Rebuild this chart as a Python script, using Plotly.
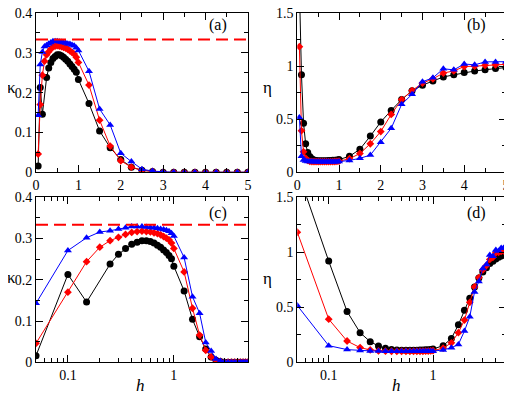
import plotly.graph_objects as go

# campo h: 0.05..1.0 passo 0.05, depois 1.25..5.0 passo 0.25
h = [0.05, 0.1, 0.15, 0.2, 0.25, 0.3, 0.35, 0.4, 0.45, 0.5,
     0.55, 0.6, 0.65, 0.7, 0.75, 0.8, 0.85, 0.9, 0.95, 1.0,
     1.25, 1.5, 1.75, 2.0, 2.25, 2.5, 2.75, 3.0, 3.25, 3.5,
     3.75, 4.0, 4.25, 4.5, 4.75, 5.0]

# kappa
kappa_black = [0.016, 0.213, 0.146, None, 0.238, 0.262, 0.276, 0.286, 0.291, 0.295,
               0.295, 0.293, 0.289, 0.284, 0.279, 0.272, 0.266, 0.259, 0.251, 0.233,
               0.173, 0.104, 0.062, 0.032, 0.013, 0.005, 0.002, 0.0, 0.0, 0.0,
               0.0, 0.0, 0.0, 0.0, 0.0, 0.0]
kappa_red = [0.046, 0.170, 0.244, 0.279, 0.295, 0.303, 0.310, 0.315, 0.317, 0.318,
             0.317, 0.316, 0.314, 0.312, 0.309, 0.305, 0.301, 0.297, 0.289, 0.276,
             0.219, 0.131, 0.066, 0.029, 0.013, 0.005, 0.002, 0.0, 0.0, 0.0,
             0.0, 0.0, 0.0, 0.0, 0.0, 0.0]
kappa_blue = [0.143, 0.271, 0.302, 0.316, 0.319, 0.323, 0.326, 0.329, 0.329, 0.329,
              0.328, 0.327, 0.326, 0.325, 0.323, 0.322, 0.320, 0.318, 0.313, 0.306,
              0.254, 0.159, 0.119, 0.048, 0.027, 0.008, 0.003, 0.001, 0.0, 0.0,
              0.0, 0.0, 0.0, 0.0, 0.0, 0.0]

# eta
eta_black = [1.75, 0.92, 0.462, 0.269, 0.187, 0.148, 0.127, 0.115, 0.112, 0.110,
             0.110, 0.110, 0.110, 0.110, 0.111, 0.112, 0.113, 0.114, 0.116, 0.120,
             0.151, 0.217, 0.341, 0.474, 0.583, 0.685, 0.767, 0.821, 0.86, 0.898,
             0.918, 0.939, 0.954, 0.966, 0.978, 0.987]
eta_red = [1.183, 0.392, 0.193, 0.133, 0.112, 0.103, 0.101, 0.100, 0.100, 0.100,
           0.100, 0.100, 0.100, 0.100, 0.100, 0.100, 0.101, 0.102, 0.103, 0.105,
           0.128, 0.177, 0.269, 0.384, 0.545, 0.685, 0.77, 0.84, 0.88, 0.935,
           0.955, 0.996, 1.0, 1.008, 1.013, 1.017]
eta_blue = [0.516, 0.151, 0.115, 0.106, 0.103, 0.102, 0.101, 0.100, 0.100, 0.100,
            0.100, 0.100, 0.100, 0.100, 0.100, 0.100, 0.100, 0.100, 0.100, 0.101,
            0.112, 0.132, 0.162, 0.284, 0.414, 0.64, 0.735, 0.853, 0.89, 0.975,
            0.965, 1.02, 1.012, 1.04, 1.04, 1.042]

series = [
    (kappa_black, eta_black, "black", "circle", 7),
    (kappa_red, eta_red, "red", "diamond", 6),
    (kappa_blue, eta_blue, "blue", "triangle-up", 7),
]

fonte = "Liberation Serif, Times New Roman, serif"
fig = go.Figure()

# eixos: (a)=x,y  (b)=x2,y2  (c)=x3,y3  (d)=x4,y4
paineis = [("x", "y", "kappa"), ("x2", "y2", "eta"), ("x3", "y3", "kappa"), ("x4", "y4", "eta")]
for xa, ya, qual in paineis:
    for kap, eta, cor, simb, tam in series:
        yy = kap if qual == "kappa" else eta
        fig.add_trace(go.Scatter(x=h, y=yy, xaxis=xa, yaxis=ya, mode="lines+markers",
                                 connectgaps=True, showlegend=False,
                                 line=dict(color=cor, width=1),
                                 marker=dict(color=cor, symbol=simb, size=tam)))

# linha tracejada kappa = 1/3
for xa, ya in [("x", "y"), ("x3", "y3")]:
    fig.add_shape(type="line", xref=xa + " domain", yref=ya, x0=0, x1=1, y0=1/3, y1=1/3,
                  line=dict(color="red", width=2, dash="12px,6px"))

comum = dict(showline=True, linecolor="black", linewidth=1, mirror="ticks", ticks="inside",
             ticklen=7, tickcolor="black", showgrid=False, zeroline=False, automargin=False,
             ticklabeloverflow="allow",
             tickfont=dict(family=fonte, size=14, color="black"))
minor = dict(ticks="inside", ticklen=4, tickcolor="black", showgrid=False)

# a pagina tem margem de 8px no body: figura 504x388
dom_x1 = [0.0556, 0.476]
dom_x2 = [0.574, 0.988]
dom_top = [0.5765, 0.987]
dom_bot = [0.087, 0.512]

lin_ticks = [0, 1, 2, 3, 4, 5]
logminor = [0.06, 0.07, 0.08, 0.09, 0.2, 0.3, 0.4, 0.5, 0.6, 0.7, 0.8, 0.9, 2, 3, 4, 5]

fig.update_layout(
    width=504, height=388, margin=dict(l=0, r=0, t=0, b=0),
    font=dict(family=fonte, color="black"),
    plot_bgcolor="white", paper_bgcolor="white",
    xaxis=dict(domain=dom_x1, anchor="y", range=[0, 5], tickvals=lin_ticks,
               minor=dict(dtick=0.5, **minor), **comum),
    yaxis=dict(domain=dom_top, anchor="x", range=[0, 0.4], dtick=0.1, minor=dict(dtick=0.05, **minor), **comum),
    xaxis2=dict(domain=dom_x2, anchor="y2", range=[0, 5], tickvals=lin_ticks,
                minor=dict(dtick=0.5, **minor), **comum),
    yaxis2=dict(domain=dom_top, anchor="x2", range=[0, 1.5], dtick=0.5, minor=dict(dtick=0.25, **minor), **comum),
    xaxis3=dict(domain=dom_x1, anchor="y3", type="log", range=[-1.30103, 0.69897],
                tickvals=[0.1, 1], ticktext=["0.1", "1"], minor=dict(tickvals=logminor, **minor), **comum),
    yaxis3=dict(domain=dom_bot, anchor="x3", range=[0, 0.4], dtick=0.1, minor=dict(dtick=0.05, **minor), **comum),
    xaxis4=dict(domain=dom_x2, anchor="y4", type="log", range=[-1.30103, 0.69897],
                tickvals=[0.1, 1], ticktext=["0.1", "1"], minor=dict(tickvals=logminor, **minor), **comum),
    yaxis4=dict(domain=dom_bot, anchor="x4", range=[0, 1.5], dtick=0.5, minor=dict(dtick=0.25, **minor), **comum),
)

# titulos dos eixos (posicao em px da figura)
W, H = 504, 388
titulos = [("κ", 3, 80), ("η", 259, 80), ("κ", 3, 269), ("η", 259, 270),
           ("<i>h</i>", 132, 377), ("<i>h</i>", 388, 377)]
for txt, px_, py_ in titulos:
    fig.add_annotation(text=txt, xref="paper", yref="paper", x=px_ / W, y=1 - py_ / H,
                       xanchor="center", yanchor="middle", showarrow=False,
                       font=dict(family=fonte, size=17, color="black"))

# rotulos dos paineis
for txt, xa, ya, yy in [("(a)", "x", "y", 0.925), ("(b)", "x2", "y2", 0.925),
                        ("(c)", "x3", "y3", 0.903), ("(d)", "x4", "y4", 0.903)]:
    fig.add_annotation(text=txt, xref=xa + " domain", yref=ya + " domain", x=0.86, y=yy,
                       xanchor="center", yanchor="middle", showarrow=False,
                       font=dict(family=fonte, size=16, color="black"))

fig.write_html("out.html")
